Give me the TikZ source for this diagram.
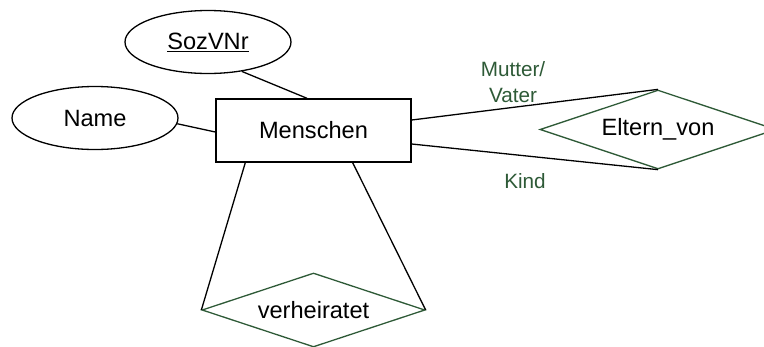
\documentclass[tikz,border=0pt]{standalone}
\usepackage{fontspec}
\setmainfont{Liberation Sans}
\usetikzlibrary{shapes.geometric,calc}
\definecolor{erg}{HTML}{2E5A37}
\begin{document}
\begin{tikzpicture}[x=1pt,y=-1pt,
  conn/.style={line width=1.3pt,black},
  attr/.style={ellipse,draw,line width=1.3pt,inner sep=0pt,minimum width=166pt,minimum height=63pt,font=\fontsize{23.6}{28}\selectfont},
  entity/.style={rectangle,draw,line width=1.4pt,inner sep=0pt,minimum width=195pt,minimum height=63pt,font=\fontsize{23.6}{28}\selectfont},
  rel/.style={diamond,draw=erg,line width=1.3pt,aspect=3,inner sep=0pt,font=\fontsize{23.6}{28}\selectfont},
  role/.style={text=erg,align=center,inner sep=0pt,font=\fontsize{20.7}{26}\selectfont}]
\clip (0,0) rectangle (764,346);
\useasboundingbox (0,0) rectangle (764,346);
\node[attr] (s) at (208,42) {\underline{SozVNr}};
\node[attr] (n) at (95,118) {Name};
\node[entity] (m) at (313.5,130.5) {Menschen};
\node[rel,minimum width=236pt,minimum height=79pt] (e) at (658,129.5) {Eltern\_von};
\node[rel,minimum width=223pt,minimum height=74pt] (v) at (313.5,310) {verheiratet};
\node[role] (mv) at (513,82) {Mutter/\\Vater};
\node[role] (k) at (525,181) {Kind};
\draw[conn] (s.-41) -- ($(m.north west)!0.467!(m.north east)$);
\draw[conn] (n.-4) -- ([yshift=-1.5pt]m.west);
\draw[conn] ([yshift=10.5pt]m.east) -- (e.north);
\draw[conn] ([yshift=-13.5pt]m.east) -- (e.south);
\draw[conn] ([xshift=30pt]m.south west) -- (v.west);
\draw[conn] ([xshift=-59pt]m.south east) -- (v.east);
\end{tikzpicture}
\end{document}
